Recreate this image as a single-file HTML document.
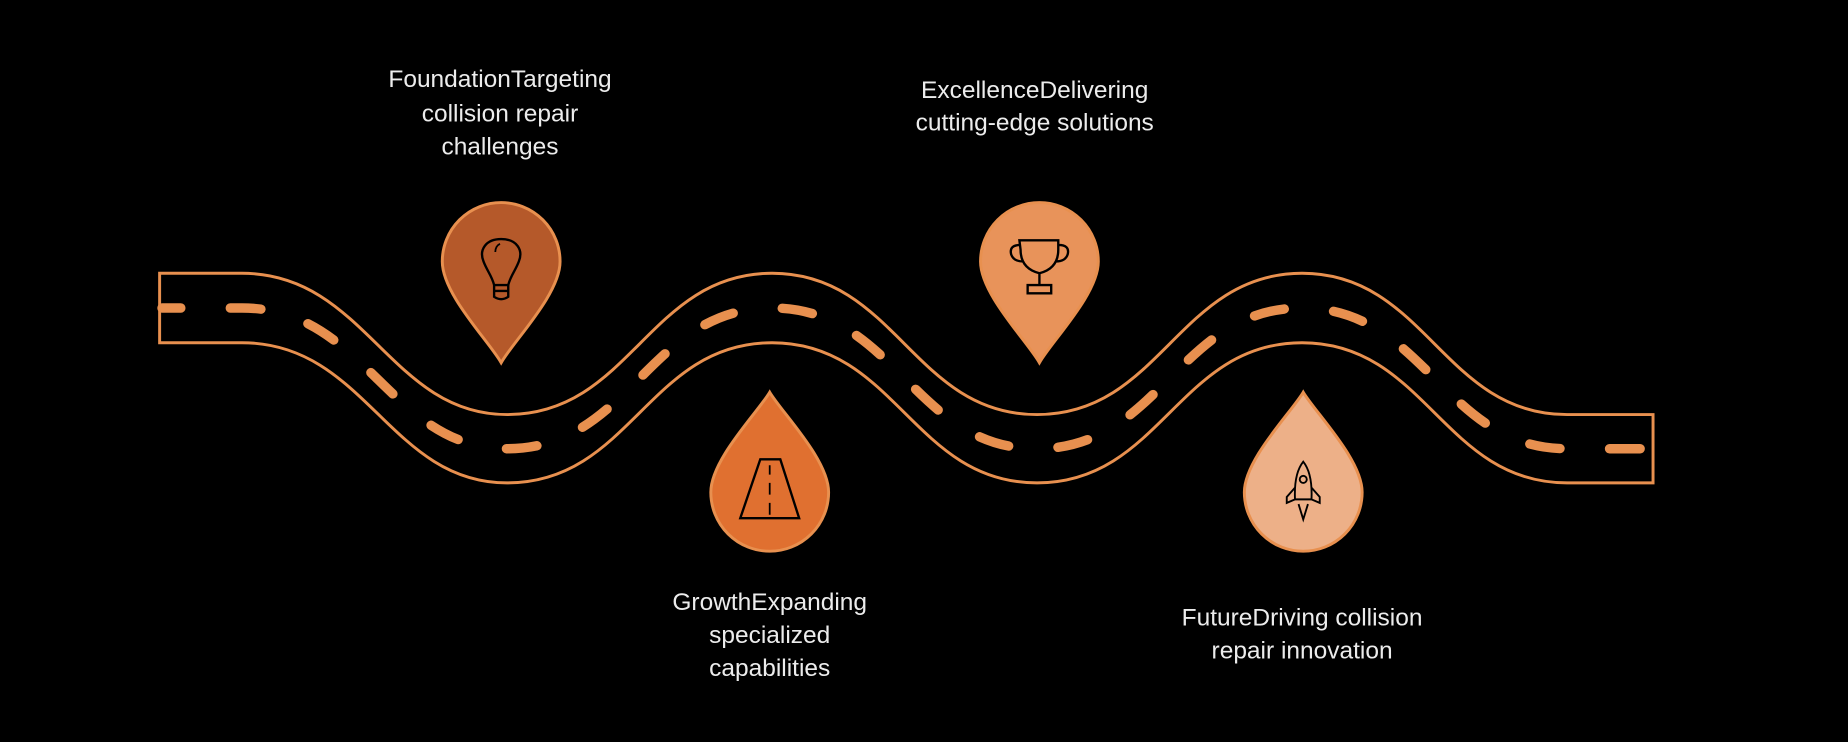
<!DOCTYPE html>
<html><head><meta charset="utf-8"><style>
html,body{margin:0;padding:0;background:#000;}
svg{display:block;}
text{font-family:"Liberation Sans",sans-serif;font-size:20.8px;fill:#ececec;text-anchor:middle;}
</style></head><body>
<svg width="1848" height="742" viewBox="0 0 1568 630" xmlns="http://www.w3.org/2000/svg">
<rect width="1568" height="630" fill="#000"/>
<g fill="none" stroke="#e8904f" stroke-width="2.5">
<path d="M135,232 L205,232 C310,232 330,352 430,352 C535,352 550,232 655,232 C760,232 775,352 880,352 C985,352 1000,232 1105,232 C1210,232 1225,352 1330,352 L1403,352 L1403,410 L1330,410 C1225,410 1210,291 1105,291 C1000,291 985,410 880,410 C775,410 760,291 655,291 C550,291 535,410 430,410 C330,410 310,291 205,291 L135,291 Z" fill="#000"/>
<path d="M137,261.5 L205,261.5 C310,261.5 330,381 430,381 C535,381 550,261.5 655,261.5 C760,261.5 775,381 880,381 C985,381 1000,261.5 1105,261.5 C1210,261.5 1225,381 1330,381 L1401,381" stroke-width="8" stroke-linecap="round" stroke-dasharray="26 42" stroke-dashoffset="10"/>
</g>
<path d="M375,222 A50 50 0 0 1 475,222 C475,250 435,290 425,308 C415,290 375,250 375,222 Z" fill="#b5592a" stroke="#e8904f" stroke-width="2.5"/>
<path d="M603,418 A50 50 0 0 0 703,418 C703,390 663,350 653,333 C643,350 603,390 603,418 Z" fill="#e07030" stroke="#e8904f" stroke-width="2.5"/>
<path d="M832,222 A50 50 0 0 1 932,222 C932,250 892,290 882,308 C872,290 832,250 832,222 Z" fill="#e8935a" stroke="#e8904f" stroke-width="2.5"/>
<path d="M1056,418 A50 50 0 0 0 1156,418 C1156,390 1116,350 1106,333 C1096,350 1056,390 1056,418 Z" fill="#edb088" stroke="#e8904f" stroke-width="2.5"/>
<g fill="none" stroke="#000" stroke-width="2">
<path d="M419,242 C417,234 413,230 410,222 C406,212 412,203 425,203 C438,203 444,212 440,222 C437,230 433,234 431,242 Z"/>
<path d="M419,242 L419,252 Q425,256 431,252 L431,242 M419,247 L431,247"/>
<path d="M420,214 Q420,209 424,207" stroke-width="1.5"/>
<path d="M645,390 L662,390 L678,440 L628,440 Z"/>
<path d="M653,395 V403 M653,410 V420 M653,427 V437" stroke-width="1.5"/>
<path d="M865,204 H898 V212 Q898,228 882,232 Q866,228 866,212 Z M866,208 Q856,208 858,216 Q860,222 868,222 M898,208 Q908,208 906,216 Q904,222 896,222 M882,232 V242 M872,242 H892 V249 H872 Z"/>
<path d="M1106,392 Q1098,402 1099,424 L1113,424 Q1114,402 1106,392 Z M1099,414 L1092,422 L1092,427 L1099,424 M1113,414 L1120,422 L1120,427 L1113,424 M1102,428 L1106,441 L1110,428" stroke-width="1.6"/>
<circle cx="1106" cy="407" r="3" stroke-width="1.6"/>
</g>
<text x="424" y="74">FoundationTargeting</text>
<text x="424" y="103">collision repair</text>
<text x="424" y="131">challenges</text>
<text x="878" y="83">ExcellenceDelivering</text>
<text x="878" y="111">cutting-edge solutions</text>
<text x="653" y="518">GrowthExpanding</text>
<text x="653" y="546">specialized</text>
<text x="653" y="574">capabilities</text>
<text x="1105" y="531">FutureDriving collision</text>
<text x="1105" y="559">repair innovation</text>
</svg>
</body></html>
